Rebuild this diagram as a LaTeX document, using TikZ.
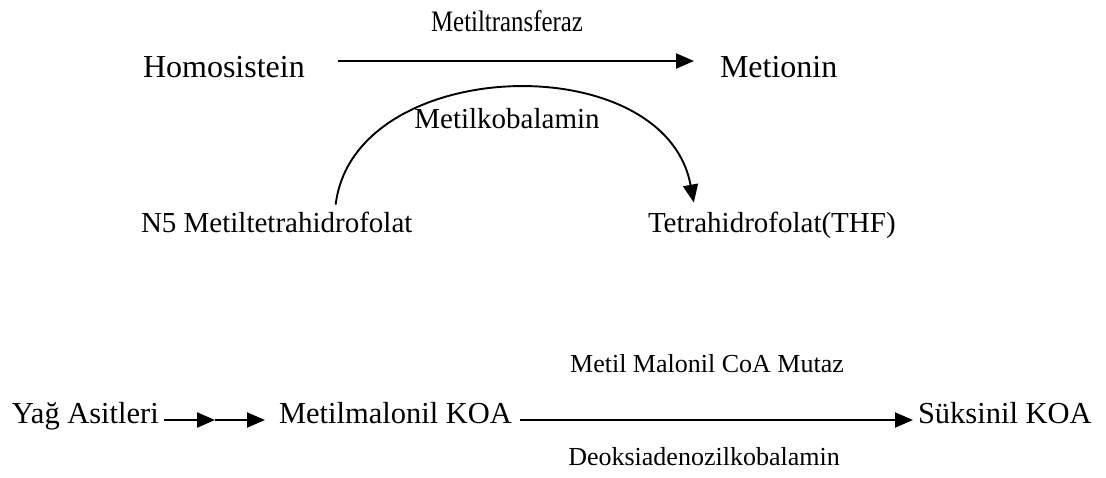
\documentclass[tikz,border=0pt]{standalone}
\usepackage{fontspec}
\setmainfont{Liberation Serif}
\usetikzlibrary{arrows.meta}
\begin{document}
\begin{tikzpicture}[x=1pt,y=-1pt,
  txt/.style={inner sep=0pt, outer sep=0pt, anchor=base west},
  big/.style={txt, font=\fontsize{32}{36}\selectfont},
  mid/.style={txt, font=\fontsize{29}{33}\selectfont},
  row/.style={txt, font=\fontsize{30.5}{34}\selectfont},
  lbl/.style={inner sep=0pt, outer sep=0pt, anchor=base},
  arr/.style={-{Triangle[length=18pt,width=15pt]}, line width=2.2pt},
]
\useasboundingbox (0,0) rectangle (1106,477);
% top reaction
\node[big] (homo) at (143,77) {Homosistein};
\node[big] (meti) at (720,77) {Metionin};
\node[lbl, font=\fontsize{27}{30}\selectfont, yscale=1.1, xscale=0.92] (mt) at (507,31) {Metiltransferaz};
\draw[arr] ([shift={(33pt,16pt)}]homo.base east) -- ([shift={(-26pt,16pt)}]meti.base west);
% cofactor arc
\node[mid] (n5) at (141,232) {N5 Metiltetrahidrofolat};
\node[mid] (thf) at (648,232) {Tetrahidrofolat(THF)};
\node[lbl, font=\fontsize{29}{33}\selectfont] (mk) at (507,128) {Metilkobalamin};
\draw[arr, line width=1.9pt] ([shift={(59pt,7pt)}]n5.north) .. controls +(18,-150) and +(-29,-157) .. ([shift={(-78pt,9pt)}]thf.north);
% bottom pathway
\node[row] (yag) at (12,423) {Yağ Asitleri};
\node[row] (mmk) at (279,423) {Metilmalonil KOA};
\node[row] (suk) at (918,423) {Süksinil KOA};
\coordinate (m1) at (215,420);
\draw[arr] ([shift={(5pt,3pt)}]yag.base east) -- (m1);
\draw[arr] (m1) -- ([shift={(-14pt,3pt)}]mmk.base west);
\draw[arr] ([shift={(8pt,3pt)}]mmk.base east) -- ([shift={(-5pt,3pt)}]suk.base west);
\node[lbl, font=\fontsize{26}{30}\selectfont] (mut) at (707,372) {Metil Malonil CoA Mutaz};
\node[lbl, font=\fontsize{26}{30}\selectfont] (deo) at (704,465) {Deoksiadenozilkobalamin};
\end{tikzpicture}
\end{document}
